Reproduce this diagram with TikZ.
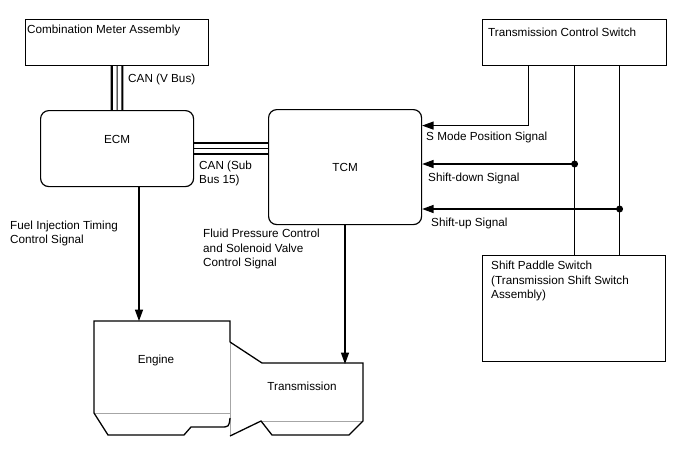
\documentclass[tikz,border=0pt]{standalone}
\usepackage{fontspec}
\setmainfont{Liberation Sans}
\usetikzlibrary{arrows.meta, positioning, calc}

\begin{document}
\begin{tikzpicture}[
    x=0.03cm, y=-0.03cm,
    font=\fontsize{10}{12}\selectfont,
    box/.style={draw, line width=1pt, anchor=north west, inner sep=0pt},
    ecu/.style={box, rounded corners=7pt},
    txt/.style={anchor=west, inner sep=0pt, align=left},
    arr/.style={-{Triangle[length=3.4mm, width=2.4mm]}, line width=0.9pt},
    wire/.style={line width=0.9pt},
    busout/.style={line width=1.8pt},
    busmid/.style={line width=0.9pt},
    jct/.style={circle, fill, inner sep=0pt, minimum size=2.1mm},
    hull/.style={line width=1.1pt, line join=miter},
    seam/.style={line width=0.6pt, gray!70},
]
\useasboundingbox (0,0) rectangle (688,463);

\node[box, minimum width=5.49cm, minimum height=1.38cm] (cma) at (25,19) {};
\node[box, minimum width=5.52cm, minimum height=1.38cm] (tcs) at (482,19) {};
\node[ecu, minimum width=4.59cm, minimum height=2.28cm] (ecm) at (40,110) {};
\node[ecu, minimum width=4.59cm, minimum height=3.45cm] (tcm) at (268,109) {};
\node[box, minimum width=5.49cm, minimum height=3.18cm] (sps) at (482,255) {};

\node[txt] (cmatxt) at (27,30) {Combination Meter Assembly};
\node[txt] (tcstxt) at (488,32) {Transmission Control Switch};
\node (ecmtxt) at ([yshift=0.27cm]ecm.center) {ECM};
\node (tcmtxt) at (tcm.center) {TCM};
\node[txt] (spstxt) at (491,281)
    {Shift Paddle Switch\\(Transmission Shift Switch\\Assembly)};

\draw[busout] ([xshift=-0.16cm]cma.south) -- ([xshift=-0.16cm]ecm.north);
\draw[busmid] (cma.south) -- (ecm.north);
\draw[busout] ([xshift=0.16cm]cma.south) -- ([xshift=0.16cm]ecm.north);
\node[txt] (vbus) at (128,79) {CAN (V Bus)};

\draw[busout] ([yshift=0.18cm]ecm.east) -- ([yshift=0.18cm]ecm.east -| tcm.west);
\draw[busmid] (ecm.east) -- (ecm.east -| tcm.west);
\draw[busout] ([yshift=-0.15cm]ecm.east) -- ([yshift=-0.15cm]ecm.east -| tcm.west);
\node[txt] (subbus) at (199,173) {CAN (Sub\\Bus 15)};

\draw[arr] ([xshift=-1.38cm]tcs.south) |- ([yshift=1.245cm]tcm.east);
\node[txt] (smode) at (426,137) {S Mode Position Signal};

\draw[wire] (tcs.south) -- (tcs.south |- sps.north);
\draw[wire] ([xshift=1.35cm]tcs.south) -- ([xshift=1.35cm]tcs.south |- sps.north);
\coordinate (dnjct) at (tcs.south |- 0,164);
\coordinate (upjct) at ([xshift=1.35cm]tcs.south |- 0,209);
\node[jct] at (dnjct) {};
\node[jct] at (upjct) {};
\draw[arr] (dnjct) -- (dnjct -| tcm.east);
\draw[arr] (upjct) -- (upjct -| tcm.east);
\node[txt] (sdown) at (428,178) {Shift-down Signal};
\node[txt] (sup) at (431,223) {Shift-up Signal};

\draw[seam] (94,413) -- (230,413) (230,342) -- (230,436) (261,421) -- (363,421);
\draw[hull] (230,342) -- (230,321) -- (94,321) -- (94,413) -- (108,435) -- (184,435)
    -- (191,427) -- (220,427) .. controls (229,427) .. (230,418);
\draw[hull] (230,342) -- (262,363) -- (363,363) -- (363,421) -- (349,435) -- (272,435)
    -- (261,421) -- (230,436);
\node (eng) at (156,360) {Engine};
\node (trans) at (302,386) {Transmission};
\coordinate (engtop) at (139,321);
\coordinate (trtop) at (345,364);

\draw[arr] (ecm.south -| engtop) -- (engtop);
\node[txt] (fuel) at (10,233) {Fuel Injection Timing\\Control Signal};
\draw[arr] (tcm.south -| trtop) -- (trtop);
\node[txt] (fluid) at (203,249) {Fluid Pressure Control\\and Solenoid Valve\\Control Signal};

\end{tikzpicture}
\end{document}
